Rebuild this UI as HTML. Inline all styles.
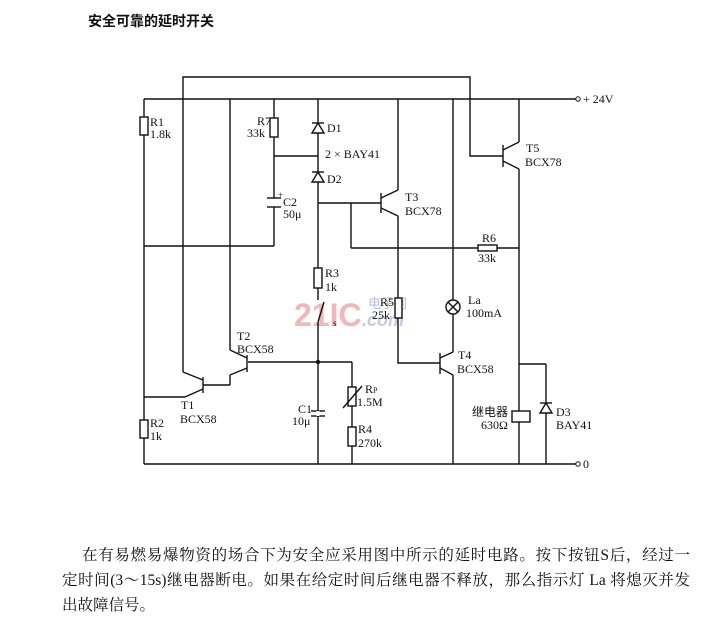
<!DOCTYPE html>
<html><head><meta charset="utf-8"><style>
body{margin:0;background:#fff;width:720px;height:623px;overflow:hidden;position:relative;font-family:"Liberation Serif","Noto Serif CJK SC",serif;}
.t{position:absolute;font-size:15.5px;color:#111;white-space:nowrap;text-align:justify;text-align-last:justify;}
</style></head><body>
<svg width="720" height="623" style="position:absolute;left:0;top:0" font-family="Liberation Serif, Noto Serif CJK SC, serif" font-size="12" fill="#111">
<text x="88" y="26" font-size="14" font-weight="bold" font-family="Noto Sans CJK SC, sans-serif">安全可靠的延时开关</text>
<!-- watermark -->
<text x="294" y="326" font-size="32" font-weight="bold" fill="#f2b6bb" font-family="Liberation Sans, sans-serif">21IC</text>
<text x="368" y="308" font-size="13" fill="#b7bde0" font-family="Noto Sans CJK SC, sans-serif">电子网</text>
<text x="362" y="326" font-size="18" font-style="italic" font-weight="bold" fill="#c6cae6" font-family="Liberation Sans, sans-serif">.com</text>
<g stroke="#111" stroke-width="1.4" fill="none">
<polyline points="183,372 183,77 470,77 470,156 503,156"/>
<line x1="144" y1="99" x2="578" y2="99"/>
<line x1="144" y1="464" x2="578" y2="464"/>
<line x1="144" y1="99" x2="144" y2="464"/>
<rect x="140" y="117" width="8" height="18" fill="#fff"/>
<rect x="140" y="420" width="8" height="18" fill="#fff"/>
<line x1="144" y1="246" x2="274" y2="246"/>
<line x1="274" y1="99" x2="274" y2="198"/>
<rect x="270" y="118" width="8" height="19" fill="#fff"/>
<line x1="274" y1="207" x2="274" y2="246"/>
<line x1="267" y1="198" x2="281" y2="198"/>
<line x1="267" y1="207" x2="281" y2="207"/>
<line x1="274" y1="156" x2="318" y2="156"/>
<line x1="318" y1="99" x2="318" y2="300"/>
<line x1="318" y1="322" x2="318" y2="464"/>
<line x1="324" y1="302" x2="318" y2="322"/>
<rect x="314" y="268" width="8" height="20" fill="#fff"/>
<polygon points="312,133 324,133 318,123" fill="#fff"/><line x1="312" y1="123" x2="324" y2="123"/>
<polygon points="312,182 324,182 318,172" fill="#fff"/><line x1="312" y1="172" x2="324" y2="172"/>
<line x1="318" y1="203" x2="381" y2="203"/>
<line x1="351" y1="203" x2="351" y2="248" />
<line x1="351" y1="248" x2="519" y2="248"/>
<rect x="478" y="245" width="19" height="6" fill="#fff"/>
<line x1="381" y1="193" x2="381" y2="213"/>
<line x1="381" y1="198" x2="398" y2="190"/>
<line x1="381" y1="208" x2="398" y2="216"/>
<polyline points="398,190 398,99"/>
<polyline points="398,216 398,363 440,363"/>
<rect x="395" y="298" width="7" height="20" fill="#fff"/>
<line x1="453" y1="99" x2="453" y2="300"/>
<circle cx="453" cy="307" r="7" fill="#fff"/>
<line x1="448" y1="302" x2="458" y2="312"/><line x1="458" y1="302" x2="448" y2="312"/>
<line x1="453" y1="314" x2="453" y2="352"/>
<line x1="440" y1="353" x2="440" y2="374"/>
<line x1="440" y1="358" x2="453" y2="352"/>
<line x1="440" y1="368" x2="453" y2="375"/>
<line x1="453" y1="375" x2="453" y2="464"/>
<line x1="503" y1="145" x2="503" y2="167"/>
<line x1="503" y1="150" x2="519" y2="142"/>
<line x1="503" y1="161" x2="519" y2="169"/>
<line x1="519" y1="142" x2="519" y2="99"/>
<line x1="519" y1="169" x2="519" y2="464"/>
<rect x="512" y="411" width="18" height="11" fill="#fff"/>
<line x1="519" y1="364" x2="546" y2="364"/>
<line x1="546" y1="364" x2="546" y2="464"/>
<polygon points="540,413 552,413 546,403" fill="#fff"/><line x1="540" y1="403" x2="552" y2="403"/>
<line x1="183" y1="372" x2="203" y2="380"/>
<line x1="203" y1="377" x2="203" y2="393"/>
<line x1="203" y1="389" x2="185" y2="397"/>
<line x1="185" y1="397" x2="144" y2="397"/>
<line x1="203" y1="385" x2="230" y2="385"/>
<line x1="230" y1="385" x2="230" y2="375"/>
<line x1="230" y1="375" x2="247" y2="368"/>
<line x1="247" y1="355" x2="247" y2="372"/>
<line x1="247" y1="358" x2="230" y2="350"/>
<line x1="230" y1="350" x2="230" y2="99"/>
<line x1="248" y1="362" x2="352" y2="362"/>
<line x1="352" y1="362" x2="352" y2="464"/>
<rect x="348" y="387" width="8" height="19" fill="#fff"/>
<line x1="343" y1="408" x2="362" y2="386"/>
<rect x="348" y="427" width="8" height="19" fill="#fff"/>
<line x1="311" y1="411" x2="325" y2="411"/>
<line x1="311" y1="416" x2="325" y2="416"/>
<line x1="318" y1="411" x2="318" y2="416" stroke="#fff" stroke-width="3"/>
</g>
<circle cx="318" cy="362" r="2.2" fill="#111"/>
<circle cx="578" cy="99" r="2.2" fill="#fff" stroke="#111"/>
<circle cx="578" cy="464" r="2.2" fill="#fff" stroke="#111"/>
<text x="583" y="103">+ 24V</text>
<text x="583" y="468">0</text>
<text x="150" y="126">R1</text><text x="150" y="138">1.8k</text>
<text x="257" y="125">R7</text><text x="247" y="137">33k</text>
<text x="278" y="198" font-size="9">+</text><text x="283" y="206">C2</text><text x="283" y="218">50μ</text>
<text x="327" y="132">D1</text><text x="325" y="158">2 × BAY41</text><text x="327" y="183">D2</text>
<text x="405" y="201">T3</text><text x="405" y="215">BCX78</text>
<text x="526" y="152">T5</text><text x="525" y="166">BCX78</text>
<text x="482" y="242">R6</text><text x="478" y="262">33k</text>
<text x="325" y="277">R3</text><text x="325" y="291">1k</text>
<text x="333" y="326" font-size="9">s</text>
<text x="380" y="306">R5</text><text x="372" y="319">25k</text>
<text x="468" y="304">La</text><text x="466" y="317">100mA</text>
<text x="458" y="359">T4</text><text x="457" y="373">BCX58</text>
<text x="237" y="340">T2</text><text x="237" y="353">BCX58</text>
<text x="181" y="409">T1</text><text x="180" y="423">BCX58</text>
<text x="150" y="427">R2</text><text x="150" y="440">1k</text>
<text x="298" y="413">C1</text><text x="292" y="425">10μ</text>
<text x="365" y="393">R<tspan font-size="8">P</tspan></text><text x="357" y="406">1.5M</text>
<text x="358" y="433">R4</text><text x="358" y="447">270k</text>
<text x="472" y="416" font-family="Noto Sans CJK SC, sans-serif">继电器</text><text x="481" y="429">630Ω</text>
<text x="556" y="416">D3</text><text x="556" y="429">BAY41</text>
</svg>
<div class="t" style="left:82px;top:543px;width:608px;">在有易燃易爆物资的场合下为安全应采用图中所示的延时电路。按下按钮S后，经过一</div>
<div class="t" style="left:62px;top:568px;width:628px;">定时间(3～15s)继电器断电。如果在给定时间后继电器不释放，那么指示灯 La 将熄灭并发</div>
<div class="t" style="left:62px;top:593px;text-align-last:left;">出故障信号。</div>
</body></html>
